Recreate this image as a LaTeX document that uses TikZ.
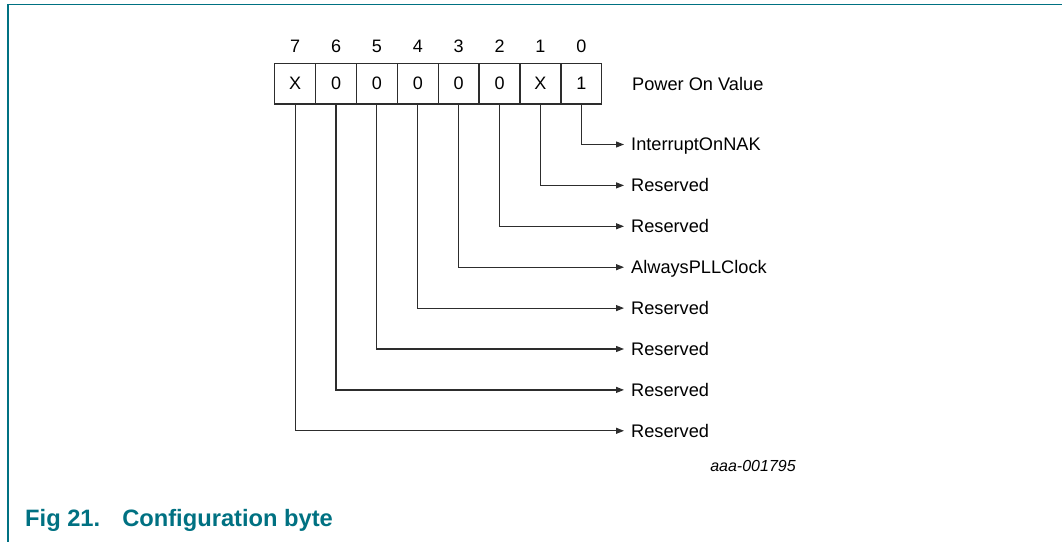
\documentclass[tikz,border=0pt]{standalone}
\usepackage{fontspec}
\setmainfont{Liberation Sans}
\usetikzlibrary{arrows.meta}
\definecolor{nxpteal}{RGB}{0,113,130}
\definecolor{linegray}{RGB}{45,45,45}
\tikzset{
  bitbox/.style={draw=linegray, line width=1.4pt, minimum width=40.875pt, minimum height=40.7pt, inner sep=0pt, font=\fontsize{18}{21}\selectfont},
  bitnum/.style={inner sep=0pt, font=\fontsize{18}{21}\selectfont},
  lbl/.style={anchor=west, inner sep=0pt, text height=12.9pt, text depth=0pt, font=\fontsize{18.2}{21}\selectfont},
  conn/.style={draw=linegray, line width=1.2pt, -{Triangle[length=8pt,width=6pt]}, shorten >=7pt},
  frameline/.style={draw=nxpteal, line width=1.5pt}
}
\begin{document}
\begin{tikzpicture}[x=1pt,y=-1pt]
\useasboundingbox (0,0) rectangle (1062,542);
\draw[frameline] (1062,4.5) -- (8,4.5) -- (8,542);
% boxes
\foreach \v [count=\i from 0] in {X,0,0,0,0,0,X,1} {
  \pgfmathtruncatemacro{\bit}{7-\i}
  \node[bitbox] (b\bit) at ({274.7+40.875*(\i+0.5)},83.7) {\v};
  \node[bitnum] (n\bit) at ({274.7+40.875*(\i+0.5)},46.5) {\bit};
}
\node[lbl] (pov) at (632,84.5) {Power On Value};
% labels
\foreach \t [count=\k from 0] in {InterruptOnNAK,Reserved,Reserved,AlwaysPLLClock,Reserved,Reserved,Reserved,Reserved} {
  \node[lbl] (l\k) at (631,{144.5+40.9*\k}) {\t};
  \draw[conn] (b\k.south) |- (l\k.west);
}
\node[inner sep=0pt, font=\fontsize{16}{18}\selectfont\itshape] (id) at (753,465.5) {aaa-001795};
\node[anchor=west, inner sep=0pt, text=nxpteal, font=\fontsize{23.7}{26}\selectfont\bfseries] (cap) at (25,520.5) {Fig 21.\hspace{22pt}Configuration byte};
\end{tikzpicture}
\end{document}
